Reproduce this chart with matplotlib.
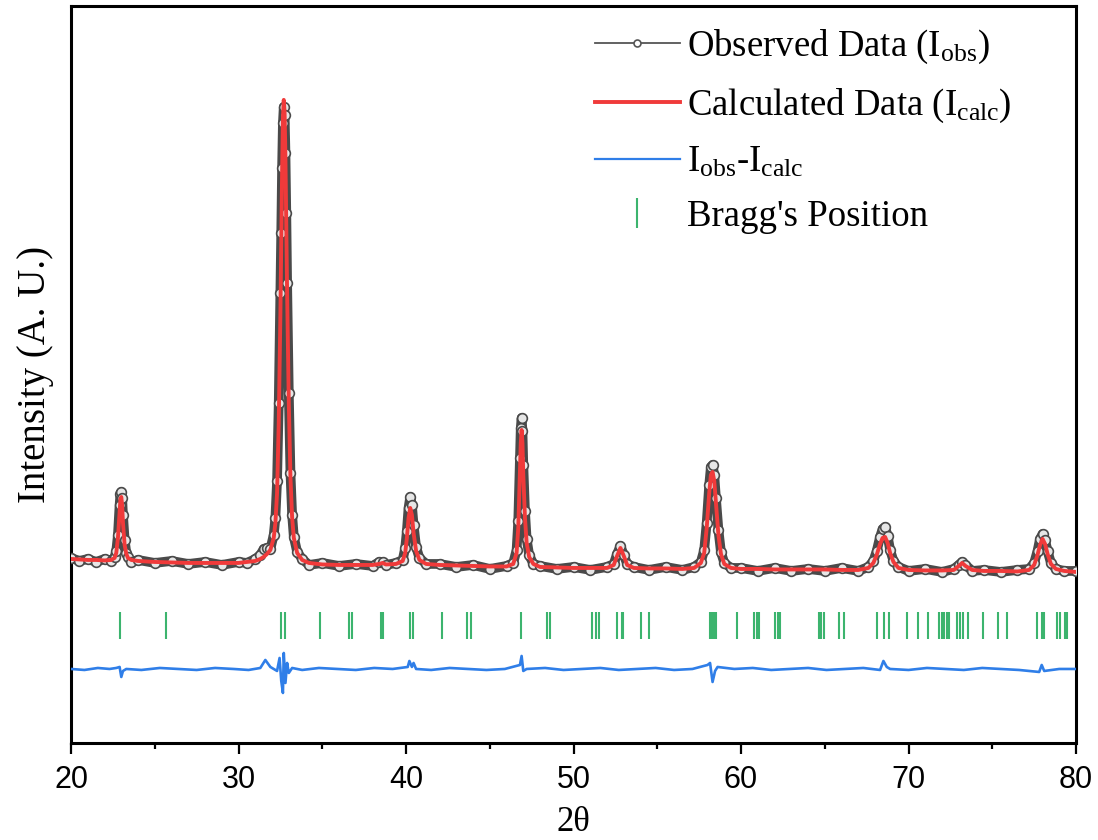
import matplotlib
matplotlib.use("Agg")
import matplotlib.pyplot as plt
from matplotlib.lines import Line2D
from matplotlib.ticker import MultipleLocator

plt.rcParams['mathtext.fontset'] = 'custom'
plt.rcParams['mathtext.rm'] = 'Liberation Serif'
plt.rcParams['mathtext.it'] = 'Liberation Serif:italic'

# 2theta grid and intensities (arbitrary units)
two_theta = [20.0, 20.5, 21.0, 21.5, 22.0, 22.4, 22.6, 22.7, 22.8, 22.9, 22.95, 23.0, 23.05, 23.1, 23.2, 23.3, 23.4, 23.6,
             24.0, 25.0, 26.0, 27.0, 28.0, 29.0, 30.0, 30.5, 31.0, 31.3, 31.5, 31.7, 31.9, 32.1, 32.2, 32.3, 32.4, 32.5,
             32.55, 32.6, 32.65, 32.7, 32.75, 32.8, 32.85, 32.9, 33.0, 33.1, 33.2, 33.3, 33.5, 33.8, 34.2, 35.0, 36.0,
             37.0, 38.0, 38.4, 38.6, 38.8, 39.4, 39.8, 39.95, 40.05, 40.15, 40.25, 40.35, 40.45, 40.6, 40.8, 41.2, 42.0,
             43.0, 44.0, 45.0, 46.0, 46.4, 46.6, 46.7, 46.8, 46.85, 46.9, 46.95, 47.0, 47.1, 47.2, 47.35, 47.6, 48.0,
             49.0, 50.0, 51.0, 52.0, 52.4, 52.6, 52.8, 53.0, 53.2, 53.6, 54.5, 55.5, 56.5, 57.2, 57.6, 57.8, 57.95, 58.1,
             58.2, 58.3, 58.4, 58.5, 58.65, 58.8, 59.0, 59.4, 60.0, 61.0, 62.0, 63.0, 64.0, 65.0, 66.0, 67.0, 67.6, 67.9,
             68.1, 68.3, 68.45, 68.6, 68.75, 68.9, 69.1, 69.4, 70.0, 71.0, 72.0, 72.7, 73.0, 73.2, 73.4, 73.8, 74.5, 75.5,
             76.5, 77.2, 77.5, 77.7, 77.85, 78.0, 78.15, 78.3, 78.5, 78.8, 79.3, 80.0]

I_calc = [184, 183.5, 183, 183, 182.5, 183, 185, 190, 205, 232, 244, 246, 238, 220, 198, 189, 185, 183,
          182, 181, 180.5, 180, 180, 180, 180, 181, 182, 184, 186, 189, 193, 205, 220, 250, 320, 430,
          500, 570, 625, 643, 630, 585, 520, 450, 340, 265, 225, 205, 190, 183, 180, 178.5, 178,
          178, 178, 179, 180, 178.5, 179, 182, 190, 205, 225, 235, 228, 210, 192, 183, 179, 178,
          177.5, 177, 176.5, 176.5, 179, 190, 215, 270, 300, 313, 300, 268, 225, 200, 186, 179, 176,
          175.5, 175, 175, 175, 178, 187, 195, 187, 178, 175, 174.5, 174.5, 174, 175, 180, 190, 215, 250,
          268, 271, 262, 240, 208, 189, 179, 175, 174, 174, 173.5, 173.5, 173.5, 173.5, 173, 173, 175, 180,
          188, 199, 205, 206, 200, 190, 181, 175, 173, 172.5, 172.5, 173, 177, 180, 177, 173, 172, 172,
          171.5, 173, 178, 188, 198, 204, 199, 189, 179, 174, 172, 171]

I_obs = [185, 182, 184, 181, 184, 182, 186, 192, 208, 238, 249, 251, 245, 228, 203, 190, 186, 181,
         183, 180, 182, 179, 181, 178, 181, 180, 184, 188, 194, 195, 194, 208, 225, 262, 340, 450,
         510, 575, 620, 636, 628, 590, 530, 460, 350, 270, 228, 206, 191, 184, 178, 180, 177,
         179, 177, 181, 181, 178, 180, 183, 195, 212, 235, 246, 238, 218, 196, 185, 179, 179,
         176, 178, 174, 177, 180, 193, 222, 285, 315, 325, 312, 278, 232, 204, 188, 179, 177,
         174, 176, 173, 176, 179, 189, 197, 188, 179, 176, 173, 176, 173, 176, 181, 193, 220, 258,
         276, 278, 268, 245, 213, 191, 180, 175, 175, 172, 175, 172, 174, 172, 175, 172, 176, 182,
         192, 206, 214, 216, 207, 193, 182, 176, 172, 174, 171, 174, 178, 181, 178, 172, 173, 171,
         173, 174, 180, 192, 204, 209, 203, 192, 180, 174, 172, 172]

# difference curve
diff_theta = [20.0, 20.8, 21.6, 22.3, 22.7, 22.9, 23.0, 23.1, 23.3, 24.2, 25.3, 26.4, 27.5, 28.6, 29.7, 30.6,
              31.3, 31.6, 31.9, 32.3, 32.45, 32.55, 32.65, 32.7, 32.8, 32.9, 33.0, 33.2, 33.8, 34.8, 35.9, 37.0,
              38.1, 39.2, 40.1, 40.2, 40.35, 40.45, 40.6, 41.5, 42.6, 43.7, 44.8, 45.9, 46.8, 46.9, 47.0, 47.2,
              48.3, 49.4, 50.5, 51.6, 52.7, 53.8, 54.9, 56.0, 57.1, 58.0, 58.15, 58.3, 58.45, 58.6, 59.6, 60.7,
              61.8, 62.9, 64.0, 65.1, 66.2, 67.3, 68.3, 68.5, 68.7, 68.9, 70.0, 71.1, 72.2, 73.3, 74.4, 75.5,
              76.6, 77.8, 77.95, 78.1, 79.0, 80.0]
I_diff = [74, 73, 75, 74, 75, 76, 66, 72, 74, 73, 75, 74, 73, 75, 74, 73,
          75, 83, 76, 72, 85, 62, 50, 90, 60, 80, 70, 75, 73, 75, 74, 73,
          75, 74, 76, 82, 76, 80, 74, 73, 75, 74, 73, 74, 78, 87, 72, 74,
          75, 73, 74, 75, 73, 74, 75, 73, 74, 78, 80, 61, 72, 76, 74, 75,
          73, 74, 75, 73, 74, 75, 73, 82, 76, 74, 73, 75, 74, 73, 75, 74,
          73, 71, 78, 72, 74, 74]

# Bragg reflection positions
bragg = [22.94, 25.67, 32.54, 32.78, 34.89, 36.58, 36.78, 38.49, 38.6, 40.24, 40.4, 42.13, 43.64, 43.88,
         46.87, 48.42, 48.6, 51.1, 51.34, 51.52, 52.58, 52.88, 52.98, 54.01, 54.49, 58.15, 58.27, 58.39,
         58.51, 59.74, 60.80, 60.94, 61.07, 62.05, 62.19, 62.33, 64.64, 64.76, 64.96, 65.87, 66.15, 68.10,
         68.54, 68.82, 69.93, 70.57, 71.19, 71.82, 71.98, 72.14, 72.30, 72.44, 72.92, 73.07, 73.27, 73.55,
         74.47, 75.36, 75.90, 77.69, 77.95, 78.11, 78.85, 79.04, 79.33, 79.48]

fig = plt.figure(figsize=(10.98, 8.40), dpi=100)
ax = fig.add_axes([0.0647, 0.1155, 0.9153, 0.8775])

obs_col = '#4a4a4a'
red = '#f03a3a'
blue = '#2f7ee8'
green = '#3cb46e'

ax.plot(two_theta, I_obs, color=obs_col, lw=7, solid_capstyle='round', solid_joinstyle='round', zorder=2)
ax.plot(two_theta, I_obs, ls='none', marker='o', ms=7, mfc='#e6e6e6', mec=obs_col, mew=1.2, zorder=3)
ax.plot(two_theta, I_calc, color=red, lw=2.8, zorder=4)
ax.plot(diff_theta, I_diff, color=blue, lw=1.9, zorder=3)
ax.vlines(bragg, 104, 131, color=green, lw=1.5, zorder=3)

ax.set_xlim(20, 80)
ax.set_ylim(0, 737)
ax.xaxis.set_major_locator(MultipleLocator(10))
ax.xaxis.set_minor_locator(MultipleLocator(5))
ax.set_yticks([])
ax.tick_params(axis='x', which='major', direction='out', length=8, width=1.6, pad=8)
ax.tick_params(axis='x', which='minor', direction='out', length=4.5, width=1.6)
for lab in ax.get_xticklabels():
    lab.set_family(['Liberation Sans Narrow', 'Liberation Sans'])
    lab.set_fontsize(22)
for s in ax.spines.values():
    s.set_linewidth(2.2)

ax.set_xlabel('2θ', family='Liberation Serif', fontsize=25, labelpad=8)
ax.set_ylabel('Intensity (A. U.)', family='Liberation Serif', fontsize=28, labelpad=12)

handles = [
    Line2D([], [], color='#555555', lw=1.3, marker='o', ms=5, mfc='white', mec='#555555', mew=1.2),
    Line2D([], [], color=red, lw=2.8),
    Line2D([], [], color=blue, lw=1.6),
    Line2D([], [], ls='none', marker='|', ms=22, mew=1.5, color=green),
]
labels = [r'Observed Data (I$_{\mathrm{obs}}$)', r'Calculated Data (I$_{\mathrm{calc}}$)',
          r'I$_{\mathrm{obs}}$-I$_{\mathrm{calc}}$', "Bragg's Position"]
ax.legend(handles, labels, loc='upper right', frameon=False, numpoints=1,
          prop={'family': 'Liberation Serif', 'size': 26.5}, handlelength=2.3, handletextpad=0.2,
          labelspacing=0.55, borderaxespad=0.2, bbox_to_anchor=(0.958, 1.0))

fig.savefig('out.png', dpi=100)
